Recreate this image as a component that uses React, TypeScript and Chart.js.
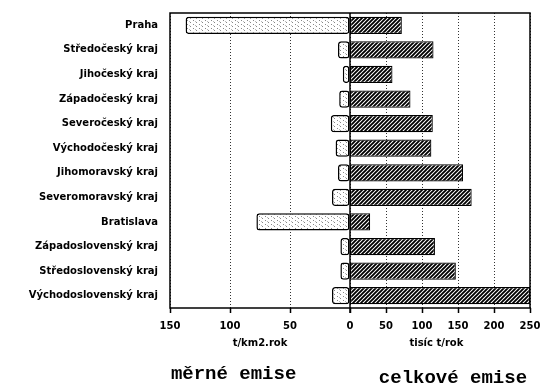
import React, { useEffect, useRef } from "react";
import { Chart, registerables } from "chart.js";

Chart.register(...registerables);

const regions = [
  "Praha",
  "Středočeský kraj",
  "Jihočeský kraj",
  "Západočeský kraj",
  "Severočeský kraj",
  "Východočeský kraj",
  "Jihomoravský kraj",
  "Severomoravský kraj",
  "Bratislava",
  "Západoslovenský kraj",
  "Středoslovenský kraj",
  "Východoslovenský kraj",
];

// měrné emise, t/km2.rok (left side)
const specificEmissions = [137, 10, 6, 9, 16, 12, 10, 15, 78, 8, 8, 15];
// celkové emise, tisíc t/rok (right side)
const totalEmissions = [72, 116, 59, 84, 115, 113, 157, 169, 28, 118, 147, 250];

const leftTicks = [150, 100, 50, 0];
const rightTicks = [50, 100, 150, 200, 250];
const leftMax = 150;
const rightMax = 250;

const leftAxisTitle = "t/km2.rok";
const rightAxisTitle = "tisíc t/rok";
const leftTitle = "měrné emise";
const rightTitle = "celkové emise";

function makeHatch(): CanvasPattern | string {
  const c = document.createElement("canvas");
  c.width = 4;
  c.height = 4;
  const g = c.getContext("2d");
  if (!g) return "#555";
  g.fillStyle = "#fff";
  g.fillRect(0, 0, 4, 4);
  g.strokeStyle = "#000";
  g.lineWidth = 1.9;
  g.beginPath();
  g.moveTo(-1, 5);
  g.lineTo(5, -1);
  g.moveTo(-3, 3);
  g.lineTo(3, -3);
  g.moveTo(1, 7);
  g.lineTo(7, 1);
  g.stroke();
  return g.createPattern(c, "repeat") || "#555";
}

function makeStipple(): CanvasPattern | string {
  const c = document.createElement("canvas");
  c.width = 6;
  c.height = 4;
  const g = c.getContext("2d");
  if (!g) return "#eee";
  g.fillStyle = "#fff";
  g.fillRect(0, 0, 6, 4);
  g.fillStyle = "#888";
  g.fillRect(1, 0, 1, 1);
  g.fillRect(4, 2, 1, 1);
  g.fillStyle = "#bbb";
  g.fillRect(3, 1, 1, 1);
  return g.createPattern(c, "repeat") || "#eee";
}

export default function App() {
  const ref = useRef<HTMLCanvasElement | null>(null);

  useEffect(() => {
    if (!ref.current) return;
    const scaleFactor = leftMax / rightMax;
    const tickValues = [
      ...leftTicks.map((v) => -v),
      ...rightTicks.map((v) => v * scaleFactor),
    ];

    const overlay = {
      id: "overlay",
      afterDatasetsDraw(chart: any) {
        const { ctx, chartArea } = chart;
        const x = chart.scales.x;
        const x2 = chart.scales.x2;
        ctx.save();
        ctx.strokeStyle = "#000";
        ctx.lineWidth = 1.5;
        ctx.strokeRect(
          chartArea.left,
          chartArea.top,
          chartArea.right - chartArea.left,
          chartArea.bottom - chartArea.top
        );
        const zx = x.getPixelForValue(0);
        ctx.beginPath();
        ctx.moveTo(zx, chartArea.top);
        ctx.lineTo(zx, chartArea.bottom + 5);
        ctx.stroke();

        ctx.fillStyle = "#000";
        ctx.textAlign = "center";
        ctx.textBaseline = "middle";
        ctx.font = "bold 10px 'DejaVu Sans'";
        ctx.fillText(leftAxisTitle, x.getPixelForValue(-75), chartArea.bottom + 35);
        ctx.fillText(rightAxisTitle, x2.getPixelForValue(120), chartArea.bottom + 35);

        ctx.textBaseline = "alphabetic";
        ctx.font = "bold 19px 'Liberation Mono'";
        ctx.fillText(leftTitle, x.getPixelForValue(-97), chartArea.bottom + 71);
        ctx.fillText(rightTitle, x2.getPixelForValue(143), chartArea.bottom + 75);
        ctx.restore();
      },
    };

    const chart = new Chart(ref.current, {
      type: "bar",
      data: {
        labels: regions,
        datasets: [
          {
            label: leftTitle,
            data: specificEmissions.map((v) => -v),
            xAxisID: "x",
            backgroundColor: makeStipple() as any,
            borderColor: "#000",
            borderWidth: 1.5,
            borderRadius: 3,
            borderSkipped: false,
            grouped: false,
            barPercentage: 0.7,
            categoryPercentage: 1,
          } as any,
          {
            label: rightTitle,
            data: totalEmissions,
            xAxisID: "x2",
            backgroundColor: makeHatch() as any,
            borderColor: "#000",
            borderWidth: 1.2,
            borderSkipped: false,
            grouped: false,
            barPercentage: 0.7,
            categoryPercentage: 1,
          } as any,
        ],
      },
      options: {
        indexAxis: "y",
        animation: false,
        responsive: false,
        devicePixelRatio: 1,
        layout: { padding: { left: 0, right: 20, top: 13, bottom: 0 } },
        plugins: {
          legend: { display: false },
          tooltip: { enabled: false },
        },
        scales: {
          y: {
            type: "category",
            grid: { display: false, drawTicks: false },
            border: { display: false },
            ticks: {
              color: "#000",
              padding: 12,
              font: { family: "'DejaVu Sans'", size: 10, weight: "bold" },
            },
            afterFit: (s: any) => {
              s.width = 170;
              s.paddingTop = 0;
              s.paddingBottom = 0;
            },
          },
          x: {
            type: "linear",
            position: "bottom",
            min: -leftMax,
            max: leftMax,
            afterBuildTicks: (axis: any) => {
              axis.ticks = tickValues.map((v) => ({ value: v }));
            },
            grid: {
              color: "#333",
              lineWidth: 1,
              drawTicks: true,
              tickLength: 5,
              tickColor: "#000",
              tickWidth: 1.5,
            },
            border: { display: false, dash: [1, 2] },
            ticks: {
              autoSkip: false,
              maxRotation: 0,
              color: "#000",
              padding: 7,
              font: { family: "'DejaVu Sans'", size: 10, weight: "bold" },
              callback: (value: any) => {
                const v = Number(value);
                if (v <= 0) return String(Math.round(-v));
                return String(Math.round(v / scaleFactor));
              },
            },
            afterFit: (s: any) => {
              s.height = 83;
            },
          },
          x2: {
            type: "linear",
            display: false,
            min: -rightMax,
            max: rightMax,
          },
        },
      } as any,
      plugins: [overlay],
    });
    return () => chart.destroy();
  }, []);

  return (
    <div style={{ position: "absolute", left: 0, top: 0, width: 550, height: 391, background: "#fff" }}>
      <canvas ref={ref} width={550} height={391} style={{ display: "block" }} />
    </div>
  );
}
